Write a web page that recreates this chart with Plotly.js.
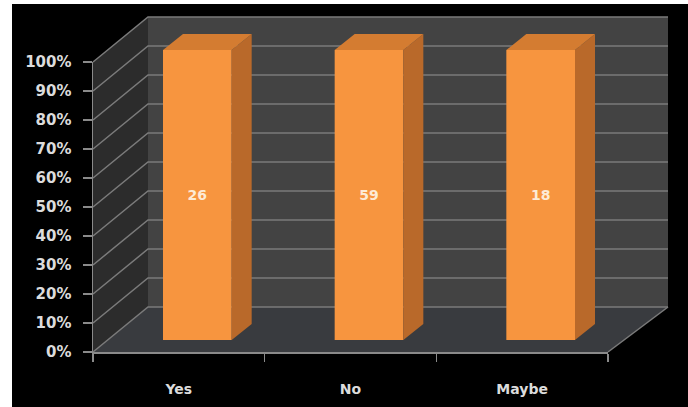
<!DOCTYPE html>
<html><head><meta charset="utf-8">
<script src="https://cdn.plot.ly/plotly-3.0.1.min.js"></script>
<style>html,body{margin:0;padding:0;background:#fff}</style>
</head><body><div id="chart" style="width:688px;height:407px"></div>
<script>
// ---- data ----
const categories = ['Yes', 'No', 'Maybe'];
const counts = [26, 59, 18];
const shares = [100, 100, 100];          // 100% stacked: one series per bar
const yTickVals = [0, 10, 20, 30, 40, 50, 60, 70, 80, 90, 100];
const yTickText = ['0%', '10%', '20%', '30%', '40%', '50%', '60%', '70%', '80%', '90%', '100%'];

// ---- geometry (pixels) ----
const W = 688, H = 407;
const px = x => x / W, py = y => 1 - y / H;
const FL = 93, FR = 608, FT = 62, FB = 352;    // front plane
const DX = 55, DY = 45;                         // wall depth
const BX = 18.5, BY = 12;                       // bar front-face offset
const unit = (FB - FT) / 100;                   // px per percent
const barW = 0.40;
const sdx = 20 / ((FR - FL) / 3);               // bar depth in category units
const sdy = 16 / unit;                          // bar depth in percent units
const yTopBar = 110;

const yFont = {family: 'DejaVu Sans', size: 15, color: '#dcdcdc', weight: 'bold'};
const xFont = {family: 'DejaVu Sans', size: 14, color: '#dcdcdc', weight: 'bold'};

// ---- traces ----
const traces = [];
traces.push({
  type: 'scatter', x: categories, y: shares, xaxis: 'x2', yaxis: 'y2',
  mode: 'markers', marker: {opacity: 0}, hoverinfo: 'skip', showlegend: false
});
traces.push({
  type: 'bar', x: categories.map((c, i) => i), y: shares, width: barW,
  text: counts.map(String), textposition: 'inside', insidetextanchor: 'middle',
  textangle: 0, constraintext: 'none',
  textfont: {family: 'DejaVu Sans', size: 14, color: '#fdebd6', weight: 'bold'},
  marker: {color: '#F7953F', line: {width: 0}},
  xaxis: 'x', yaxis: 'y', hoverinfo: 'skip', showlegend: false
});
shares.forEach((v, i) => {
  const r = i + barW / 2, l = i - barW / 2;
  traces.push({
    type: 'scatter', mode: 'lines', fill: 'toself', fillcolor: '#B9692A',
    line: {width: 0}, x: [r, r + sdx, r + sdx, r, r], y: [0, sdy, v + sdy, v, 0],
    xaxis: 'x', yaxis: 'y', hoverinfo: 'skip', showlegend: false
  });
  traces.push({
    type: 'scatter', mode: 'lines', fill: 'toself', fillcolor: '#D47C31',
    line: {width: 0}, x: [l, r, r + sdx, l + sdx, l], y: [v, v, v + sdy, v + sdy, v],
    xaxis: 'x', yaxis: 'y', hoverinfo: 'skip', showlegend: false
  });
});

// ---- decoration shapes (paper coords) ----
const P = (x, y) => px(x) + ',' + py(y);
const shapes = [];
shapes.push({type: 'rect', xref: 'paper', yref: 'paper', x0: px(12), x1: 1, y0: 0, y1: py(4),
  fillcolor: '#000', line: {width: 0}, layer: 'below'});
shapes.push({type: 'rect', xref: 'paper', yref: 'paper', x0: px(FL + DX), x1: px(FR + DX + 5), y0: py(FB - DY), y1: py(FT - DY),
  fillcolor: '#434343', line: {width: 0}, layer: 'below'});
shapes.push({type: 'path', xref: 'paper', yref: 'paper', layer: 'below',
  path: 'M' + P(FL, FT) + 'L' + P(FL + DX, FT - DY) + 'L' + P(FL + DX, FB - DY) + 'L' + P(FL, FB) + 'Z',
  fillcolor: '#2c2c2c', line: {width: 0}});
shapes.push({type: 'path', xref: 'paper', yref: 'paper', layer: 'below',
  path: 'M' + P(FL, FB) + 'L' + P(FR, FB) + 'L' + P(FR + DX + 5, FB - DY) + 'L' + P(FL + DX, FB - DY) + 'Z',
  fillcolor: '#393b3f', line: {width: 0}});
yTickVals.forEach(t => {
  const yf = FB - t * unit;
  shapes.push({type: 'path', xref: 'paper', yref: 'paper', layer: 'below',
    path: 'M' + P(FL, yf) + 'L' + P(FL + DX, yf - DY) + 'L' + P(FR + DX + 5, yf - DY),
    line: {color: '#7b7b7b', width: 1.5}});
});
shapes.push({type: 'path', xref: 'paper', yref: 'paper', layer: 'below',
  path: 'M' + P(FR, FB) + 'L' + P(FR + DX + 5, FB - DY),
  line: {color: '#7b7b7b', width: 1.5}});

const layout = {
  width: W, height: H, autosize: false,
  margin: {l: 0, r: 0, t: 0, b: 0},
  paper_bgcolor: '#ffffff', plot_bgcolor: 'rgba(0,0,0,0)',
  showlegend: false,
  xaxis: {domain: [px(FL + BX), px(FR + BX)], range: [-0.5, 2.5], anchor: 'y',
    showgrid: false, zeroline: false, showline: false, showticklabels: false, ticks: '', fixedrange: true},
  yaxis: {domain: [py(FB - BY), py(FB - BY - yTopBar * unit)], range: [0, yTopBar], anchor: 'x',
    showgrid: false, zeroline: false, showline: false, showticklabels: false, ticks: '', fixedrange: true},
  xaxis2: {domain: [px(FL), px(FR)], anchor: 'y2', type: 'category', categoryorder: 'array', categoryarray: categories,
    range: [-0.5, 2.5], tickson: 'boundaries', ticks: 'outside', ticklen: 8, tickwidth: 1.5, tickcolor: '#8a8a8a',
    showline: true, linecolor: '#8a8a8a', linewidth: 2, showgrid: false, zeroline: false,
    tickfont: xFont, ticklabelstandoff: 23},
  yaxis2: {domain: [py(FB), py(FT)], anchor: 'x2', range: [0, 100],
    tickvals: yTickVals, ticktext: yTickText, ticks: 'outside', ticklen: 9, tickwidth: 1.5, tickcolor: '#8a8a8a',
    showline: true, linecolor: '#8a8a8a', linewidth: 1.5, showgrid: false, zeroline: false,
    tickfont: yFont, ticklabelstandoff: 8},
  shapes: shapes
};

Plotly.newPlot('chart', traces, layout, {displayModeBar: false, staticPlot: true});
</script>
</body></html>
